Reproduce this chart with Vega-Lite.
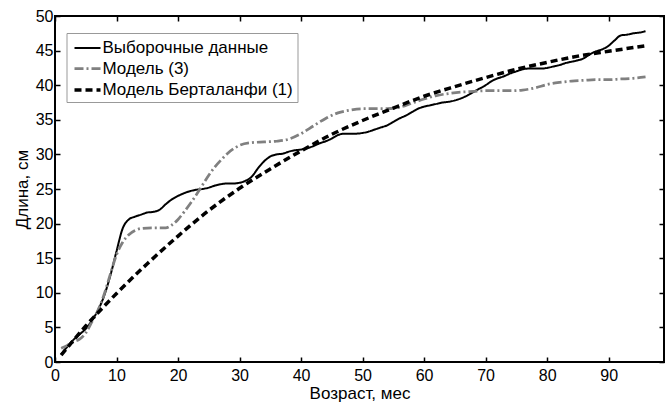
{
  "$schema": "https://vega.github.io/schema/vega-lite/v6.json",
  "width": 609,
  "height": 346,
  "autosize": {"type": "none"},
  "padding": {"left": 55, "top": 16, "right": 8, "bottom": 42},
  "background": "white",
  "config": {
    "font": "Liberation Sans",
    "view": {"stroke": "black", "strokeWidth": 2},
    "axis": {
      "domain": false,
      "grid": false,
      "tickColor": "black",
      "tickWidth": 1.5,
      "tickSize": -5,
      "labelColor": "black",
      "labelFontSize": 16,
      "labelFont": "Liberation Sans",
      "labelFlush": false,
      "titleColor": "black",
      "titleFontSize": 17,
      "titleFontWeight": "normal",
      "titleFont": "Liberation Sans"
    },
    "legend": {
      "orient": "none",
      "legendX": 11.5,
      "legendY": 17,
      "strokeColor": "#999999",
      "fillColor": "white",
      "padding": 4,
      "symbolType": "M-1.3,0H1.3",
      "symbolSize": 400,
      "symbolOffset": 5,
      "labelFontSize": 17,
      "labelFont": "Liberation Sans",
      "labelColor": "black",
      "rowPadding": 1,
      "labelOffset": 3,
      "labelLimit": 400
    }
  },
  "datasets": {
    "curves": [
      {"t": 1, "L": 1.1, "s": "Выборочные данные"},
      {"t": 2, "L": 2.2, "s": "Выборочные данные"},
      {"t": 3, "L": 3.2, "s": "Выборочные данные"},
      {"t": 4, "L": 4.0, "s": "Выборочные данные"},
      {"t": 5, "L": 4.8, "s": "Выборочные данные"},
      {"t": 6, "L": 6.0, "s": "Выборочные данные"},
      {"t": 7, "L": 7.5, "s": "Выборочные данные"},
      {"t": 8, "L": 9.6, "s": "Выборочные данные"},
      {"t": 9, "L": 12.5, "s": "Выборочные данные"},
      {"t": 10, "L": 16.0, "s": "Выборочные данные"},
      {"t": 11, "L": 19.3, "s": "Выборочные данные"},
      {"t": 12, "L": 20.6, "s": "Выборочные данные"},
      {"t": 13, "L": 21.0, "s": "Выборочные данные"},
      {"t": 14, "L": 21.3, "s": "Выборочные данные"},
      {"t": 15, "L": 21.6, "s": "Выборочные данные"},
      {"t": 16, "L": 21.7, "s": "Выборочные данные"},
      {"t": 17, "L": 22.0, "s": "Выборочные данные"},
      {"t": 18, "L": 22.8, "s": "Выборочные данные"},
      {"t": 19, "L": 23.5, "s": "Выборочные данные"},
      {"t": 20, "L": 24.0, "s": "Выборочные данные"},
      {"t": 21, "L": 24.4, "s": "Выборочные данные"},
      {"t": 22, "L": 24.7, "s": "Выборочные данные"},
      {"t": 23, "L": 24.9, "s": "Выборочные данные"},
      {"t": 24, "L": 25.0, "s": "Выборочные данные"},
      {"t": 25, "L": 25.2, "s": "Выборочные данные"},
      {"t": 26, "L": 25.5, "s": "Выборочные данные"},
      {"t": 27, "L": 25.7, "s": "Выборочные данные"},
      {"t": 28, "L": 25.8, "s": "Выборочные данные"},
      {"t": 29, "L": 25.8, "s": "Выборочные данные"},
      {"t": 30, "L": 25.9, "s": "Выборочные данные"},
      {"t": 31, "L": 26.2, "s": "Выборочные данные"},
      {"t": 32, "L": 26.8, "s": "Выборочные данные"},
      {"t": 33, "L": 28.0, "s": "Выборочные данные"},
      {"t": 34, "L": 29.0, "s": "Выборочные данные"},
      {"t": 35, "L": 29.7, "s": "Выборочные данные"},
      {"t": 36, "L": 30.0, "s": "Выборочные данные"},
      {"t": 37, "L": 30.1, "s": "Выборочные данные"},
      {"t": 38, "L": 30.4, "s": "Выборочные данные"},
      {"t": 39, "L": 30.6, "s": "Выборочные данные"},
      {"t": 40, "L": 30.7, "s": "Выборочные данные"},
      {"t": 41, "L": 30.9, "s": "Выборочные данные"},
      {"t": 42, "L": 31.2, "s": "Выборочные данные"},
      {"t": 43, "L": 31.6, "s": "Выборочные данные"},
      {"t": 44, "L": 31.9, "s": "Выборочные данные"},
      {"t": 45, "L": 32.3, "s": "Выборочные данные"},
      {"t": 46, "L": 32.8, "s": "Выборочные данные"},
      {"t": 47, "L": 33.0, "s": "Выборочные данные"},
      {"t": 48, "L": 33.0, "s": "Выборочные данные"},
      {"t": 49, "L": 33.0, "s": "Выборочные данные"},
      {"t": 50, "L": 33.1, "s": "Выборочные данные"},
      {"t": 51, "L": 33.3, "s": "Выборочные данные"},
      {"t": 52, "L": 33.6, "s": "Выборочные данные"},
      {"t": 53, "L": 33.9, "s": "Выборочные данные"},
      {"t": 54, "L": 34.2, "s": "Выборочные данные"},
      {"t": 55, "L": 34.7, "s": "Выборочные данные"},
      {"t": 56, "L": 35.2, "s": "Выборочные данные"},
      {"t": 57, "L": 35.6, "s": "Выборочные данные"},
      {"t": 58, "L": 36.1, "s": "Выборочные данные"},
      {"t": 59, "L": 36.6, "s": "Выборочные данные"},
      {"t": 60, "L": 36.9, "s": "Выборочные данные"},
      {"t": 61, "L": 37.1, "s": "Выборочные данные"},
      {"t": 62, "L": 37.3, "s": "Выборочные данные"},
      {"t": 63, "L": 37.5, "s": "Выборочные данные"},
      {"t": 64, "L": 37.6, "s": "Выборочные данные"},
      {"t": 65, "L": 37.8, "s": "Выборочные данные"},
      {"t": 66, "L": 38.1, "s": "Выборочные данные"},
      {"t": 67, "L": 38.5, "s": "Выборочные данные"},
      {"t": 68, "L": 39.0, "s": "Выборочные данные"},
      {"t": 69, "L": 39.5, "s": "Выборочные данные"},
      {"t": 70, "L": 40.0, "s": "Выборочные данные"},
      {"t": 71, "L": 40.6, "s": "Выборочные данные"},
      {"t": 72, "L": 41.0, "s": "Выборочные данные"},
      {"t": 73, "L": 41.3, "s": "Выборочные данные"},
      {"t": 74, "L": 41.7, "s": "Выборочные данные"},
      {"t": 75, "L": 42.0, "s": "Выборочные данные"},
      {"t": 76, "L": 42.3, "s": "Выборочные данные"},
      {"t": 77, "L": 42.4, "s": "Выборочные данные"},
      {"t": 78, "L": 42.4, "s": "Выборочные данные"},
      {"t": 79, "L": 42.4, "s": "Выборочные данные"},
      {"t": 80, "L": 42.5, "s": "Выборочные данные"},
      {"t": 81, "L": 42.7, "s": "Выборочные данные"},
      {"t": 82, "L": 42.9, "s": "Выборочные данные"},
      {"t": 83, "L": 43.2, "s": "Выборочные данные"},
      {"t": 84, "L": 43.4, "s": "Выборочные данные"},
      {"t": 85, "L": 43.6, "s": "Выборочные данные"},
      {"t": 86, "L": 43.9, "s": "Выборочные данные"},
      {"t": 87, "L": 44.5, "s": "Выборочные данные"},
      {"t": 88, "L": 44.9, "s": "Выборочные данные"},
      {"t": 89, "L": 45.2, "s": "Выборочные данные"},
      {"t": 90, "L": 45.7, "s": "Выборочные данные"},
      {"t": 91, "L": 46.5, "s": "Выборочные данные"},
      {"t": 92, "L": 47.2, "s": "Выборочные данные"},
      {"t": 93, "L": 47.3, "s": "Выборочные данные"},
      {"t": 94, "L": 47.5, "s": "Выборочные данные"},
      {"t": 95, "L": 47.6, "s": "Выборочные данные"},
      {"t": 96, "L": 47.8, "s": "Выборочные данные"},
      {"t": 1, "L": 2.0, "s": "Модель (3)"},
      {"t": 2, "L": 2.4, "s": "Модель (3)"},
      {"t": 3, "L": 2.9, "s": "Модель (3)"},
      {"t": 4, "L": 3.3, "s": "Модель (3)"},
      {"t": 5, "L": 4.2, "s": "Модель (3)"},
      {"t": 6, "L": 5.8, "s": "Модель (3)"},
      {"t": 7, "L": 7.5, "s": "Модель (3)"},
      {"t": 8, "L": 9.8, "s": "Модель (3)"},
      {"t": 9, "L": 12.7, "s": "Модель (3)"},
      {"t": 10, "L": 15.5, "s": "Модель (3)"},
      {"t": 11, "L": 17.3, "s": "Модель (3)"},
      {"t": 12, "L": 18.4, "s": "Модель (3)"},
      {"t": 13, "L": 19.0, "s": "Модель (3)"},
      {"t": 14, "L": 19.3, "s": "Модель (3)"},
      {"t": 16, "L": 19.4, "s": "Модель (3)"},
      {"t": 18, "L": 19.4, "s": "Модель (3)"},
      {"t": 19, "L": 19.8, "s": "Модель (3)"},
      {"t": 20, "L": 20.6, "s": "Модель (3)"},
      {"t": 21, "L": 21.7, "s": "Модель (3)"},
      {"t": 22, "L": 22.9, "s": "Модель (3)"},
      {"t": 23, "L": 24.2, "s": "Модель (3)"},
      {"t": 24, "L": 25.6, "s": "Модель (3)"},
      {"t": 25, "L": 27.0, "s": "Модель (3)"},
      {"t": 26, "L": 28.2, "s": "Модель (3)"},
      {"t": 27, "L": 29.2, "s": "Модель (3)"},
      {"t": 28, "L": 30.1, "s": "Модель (3)"},
      {"t": 29, "L": 30.8, "s": "Модель (3)"},
      {"t": 30, "L": 31.3, "s": "Модель (3)"},
      {"t": 32, "L": 31.7, "s": "Модель (3)"},
      {"t": 34, "L": 31.8, "s": "Модель (3)"},
      {"t": 36, "L": 31.9, "s": "Модель (3)"},
      {"t": 38, "L": 32.2, "s": "Модель (3)"},
      {"t": 40, "L": 33.0, "s": "Модель (3)"},
      {"t": 42, "L": 34.1, "s": "Модель (3)"},
      {"t": 44, "L": 35.2, "s": "Модель (3)"},
      {"t": 46, "L": 36.0, "s": "Модель (3)"},
      {"t": 48, "L": 36.4, "s": "Модель (3)"},
      {"t": 50, "L": 36.6, "s": "Модель (3)"},
      {"t": 52, "L": 36.6, "s": "Модель (3)"},
      {"t": 54, "L": 36.6, "s": "Модель (3)"},
      {"t": 56, "L": 36.8, "s": "Модель (3)"},
      {"t": 58, "L": 37.4, "s": "Модель (3)"},
      {"t": 60, "L": 38.0, "s": "Модель (3)"},
      {"t": 62, "L": 38.5, "s": "Модель (3)"},
      {"t": 64, "L": 38.8, "s": "Модель (3)"},
      {"t": 66, "L": 39.0, "s": "Модель (3)"},
      {"t": 68, "L": 39.1, "s": "Модель (3)"},
      {"t": 70, "L": 39.2, "s": "Модель (3)"},
      {"t": 72, "L": 39.2, "s": "Модель (3)"},
      {"t": 74, "L": 39.2, "s": "Модель (3)"},
      {"t": 76, "L": 39.3, "s": "Модель (3)"},
      {"t": 78, "L": 39.6, "s": "Модель (3)"},
      {"t": 80, "L": 40.1, "s": "Модель (3)"},
      {"t": 82, "L": 40.4, "s": "Модель (3)"},
      {"t": 84, "L": 40.6, "s": "Модель (3)"},
      {"t": 86, "L": 40.7, "s": "Модель (3)"},
      {"t": 88, "L": 40.8, "s": "Модель (3)"},
      {"t": 90, "L": 40.8, "s": "Модель (3)"},
      {"t": 92, "L": 40.9, "s": "Модель (3)"},
      {"t": 94, "L": 41.0, "s": "Модель (3)"},
      {"t": 96, "L": 41.2, "s": "Модель (3)"},
      {"t": 1, "L": 1.0, "s": "Модель Берталанфи (1)"},
      {"t": 5, "L": 5.2, "s": "Модель Берталанфи (1)"},
      {"t": 10, "L": 9.9, "s": "Модель Берталанфи (1)"},
      {"t": 15, "L": 14.2, "s": "Модель Берталанфи (1)"},
      {"t": 20, "L": 18.2, "s": "Модель Берталанфи (1)"},
      {"t": 25, "L": 21.9, "s": "Модель Берталанфи (1)"},
      {"t": 30, "L": 25.1, "s": "Модель Берталанфи (1)"},
      {"t": 35, "L": 27.9, "s": "Модель Берталанфи (1)"},
      {"t": 40, "L": 30.5, "s": "Модель Берталанфи (1)"},
      {"t": 45, "L": 32.9, "s": "Модель Берталанфи (1)"},
      {"t": 50, "L": 34.9, "s": "Модель Берталанфи (1)"},
      {"t": 55, "L": 36.7, "s": "Модель Берталанфи (1)"},
      {"t": 60, "L": 38.4, "s": "Модель Берталанфи (1)"},
      {"t": 65, "L": 39.8, "s": "Модель Берталанфи (1)"},
      {"t": 70, "L": 41.1, "s": "Модель Берталанфи (1)"},
      {"t": 75, "L": 42.3, "s": "Модель Берталанфи (1)"},
      {"t": 80, "L": 43.3, "s": "Модель Берталанфи (1)"},
      {"t": 85, "L": 44.2, "s": "Модель Берталанфи (1)"},
      {"t": 90, "L": 44.9, "s": "Модель Берталанфи (1)"},
      {"t": 96, "L": 45.7, "s": "Модель Берталанфи (1)"}
    ]
  },
  "data": {"name": "curves"},
  "layer": [
    {
      "mark": {"type": "line", "interpolate": "monotone", "strokeCap": "butt"},
      "encoding": {
        "x": {"field": "t", "type": "quantitative", "scale": {"domain": [0, 99], "nice": false}, "axis": {"values": [0, 10, 20, 30, 40, 50, 60, 70, 80, 90], "title": "Возраст, мес", "labelPadding": 10, "titlePadding": 2}},
        "y": {"field": "L", "type": "quantitative", "scale": {"domain": [0, 50], "nice": false}, "axis": {"values": [0, 5, 10, 15, 20, 25, 30, 35, 40, 45, 50], "title": "Длина, см", "labelPadding": 7, "titlePadding": 4}},
        "color": {"field": "s", "type": "nominal", "title": null, "scale": {"domain": ["Выборочные данные", "Модель (3)", "Модель Берталанфи (1)"], "range": ["#000000", "#808080", "#000000"]}},
        "strokeDash": {"field": "s", "type": "nominal", "title": null, "scale": {"domain": ["Выборочные данные", "Модель (3)", "Модель Берталанфи (1)"], "range": [[1, 0], [9, 3, 2, 3], [7, 4]]}},
        "strokeWidth": {"field": "s", "type": "nominal", "title": null, "scale": {"domain": ["Выборочные данные", "Модель (3)", "Модель Берталанфи (1)"], "range": [2, 3.5, 2.5]}},
        "order": {"field": "t", "type": "quantitative"}
      }
    },
    {
      "mark": {"type": "line", "opacity": 0},
      "encoding": {
        "x": {"field": "t", "type": "quantitative", "axis": {"orient": "top", "values": [0, 10, 20, 30, 40, 50, 60, 70, 80, 90], "labels": false, "title": null}},
        "y": {"field": "L", "type": "quantitative", "axis": {"orient": "right", "values": [0, 5, 10, 15, 20, 25, 30, 35, 40, 45, 50], "labels": false, "title": null}},
        "detail": {"field": "s"}
      }
    }
  ],
  "resolve": {"axis": {"x": "independent", "y": "independent"}}
}
